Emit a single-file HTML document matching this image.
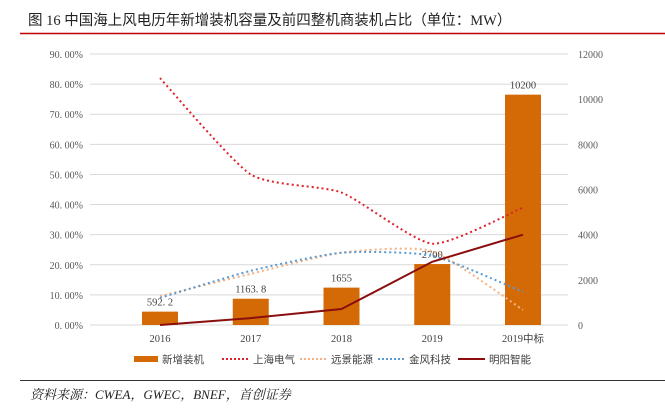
<!DOCTYPE html>
<html><head><meta charset="utf-8"><style>
body{margin:0;background:#fff;width:665px;height:404px;overflow:hidden;font-family:"Liberation Serif","Noto Serif CJK SC",serif}
</style></head><body>
<svg id="c" width="665" height="404" xmlns="http://www.w3.org/2000/svg">
<text x="28" y="25" font-size="14.5" fill="#222" font-family="Liberation Serif, Noto Sans CJK SC, sans-serif">图 16 中国海上风电历年新增装机容量及前四整机商装机占比（单位：MW）</text>
<line x1="20" y1="33.5" x2="665" y2="33.5" stroke="#c00000" stroke-width="1.5"/>
<line x1="20" y1="380.5" x2="665" y2="380.5" stroke="#333" stroke-width="1"/>
<text x="30" y="399" font-size="13" font-style="italic" fill="#222" font-family="Liberation Serif, Noto Serif CJK SC, serif">资料来源：CWEA，GWEC，BNEF，首创证券</text>
<g id="plot"></g>
</svg>
<script>
const categories=["2016","2017","2018","2019","2019中标"];
const capacity=[592.2,1163.8,1655,2700,10200];
const capLabels=["592. 2","1163. 8","1655","2700","10200"];
const shanghai=[82,50,44,27,39];
const envision=[9.6,17,24,24.5,5];
const goldwind=[9,18,24,23,11];
const mingyang=[0,2.3,5.3,21,30];
const leftTicks=[0,10,20,30,40,50,60,70,80,90];
const rightTicks=[0,2000,4000,6000,8000,10000,12000];
const x0=90,x1=568,yB=325,yT=54;
const ns="http://www.w3.org/2000/svg";
const g=document.getElementById('plot');
const X=i=>160+90.75*i;
const YL=v=>yB-(v/90)*(yB-yT);
const YR=v=>yB-(v/12000)*(yB-yT);
function mk(t,a){const e=document.createElementNS(ns,t);for(const k in a)e.setAttribute(k,a[k]);g.appendChild(e);return e;}
leftTicks.forEach(t=>{
 const l=mk('line',{x1:x0,x2:x1,y1:YL(t),y2:YL(t),stroke:'#d9d9d9','stroke-width':1});
 
 
 const tx=mk('text',{x:83,y:YL(t)+4,'font-size':10,fill:'#595959','text-anchor':'end'});
 tx.textContent=t.toFixed(2).replace('.','. ')+'%';
 
 
});
rightTicks.forEach(t=>{
 const tx=mk('text',{x:578,y:YR(t)+4,'font-size':10,fill:'#595959'});
 tx.textContent=t;
 
 
});
categories.forEach((c,i)=>{
 const tx=mk('text',{x:X(i),y:342,'font-size':10.5,fill:'#404040','text-anchor':'middle','font-family':'Liberation Serif, Noto Sans CJK SC, serif'});
 tx.textContent=c;
 
 
});
capacity.forEach((v,i)=>{
 const r=mk('rect',{x:X(i)-18,y:YR(v),width:36,height:yB-YR(v),fill:'#d46a06'});
 
 
 const tx=mk('text',{x:X(i),y:YR(v)-6,'font-size':10.5,fill:'#404040','text-anchor':'middle'});
 tx.textContent=capLabels[i];
 
 
});
function smooth(vals){
 const p=vals.map((v,i)=>[X(i),YL(v)]);
 let d='M'+p[0][0]+','+p[0][1];
 for(let i=0;i<p.length-1;i++){
  const a=p[i-1]||p[i],b=p[i],c=p[i+1],e=p[i+2]||c;
  d+=' C'+(b[0]+(c[0]-a[0])/10)+','+(b[1]+(c[1]-a[1])/10)+' '+(c[0]-(e[0]-b[0])/10)+','+(c[1]-(e[1]-b[1])/10)+' '+c[0]+','+c[1];
 }
 return d;
}
const series=[[shanghai,'#e0202a','shanghai-electric-line'],[envision,'#f4b183','envision-line'],[goldwind,'#5b9bd5','goldwind-line']];
series.forEach(s=>{
 const p=mk('path',{d:smooth(s[0]),fill:'none',stroke:s[1],'stroke-width':2,'stroke-dasharray':'2 3'});
 
 
});
const my=mk('polyline',{points:mingyang.map((v,i)=>X(i)+','+YL(v)).join(' '),fill:'none',stroke:'#8b0e0e','stroke-width':2});


const legend=[['新增装机','#d46a06','bar',134],['上海电气','#e0202a','dot',222],['远景能源','#f4b183','dot',300],['金风科技','#5b9bd5','dot',378],['明阳智能','#8b0e0e','line',458]];
legend.forEach(L=>{
 let m;
 if(L[2]=='bar') m=mk('rect',{x:L[3],y:356,width:24,height:6,fill:L[1]});
 else m=mk('line',{x1:L[3],x2:L[3]+27,y1:359,y2:359,stroke:L[1],'stroke-width':2,'stroke-dasharray':L[2]=='dot'?'2 2':'none'});
 
 
 const t=mk('text',{x:L[3]+(L[2]=='bar'?28:31),y:363,'font-size':10.5,fill:'#404040','font-family':'Liberation Sans, Noto Sans CJK SC, sans-serif'});
 t.textContent=L[0];
 
 
});
</script>
</body></html>
